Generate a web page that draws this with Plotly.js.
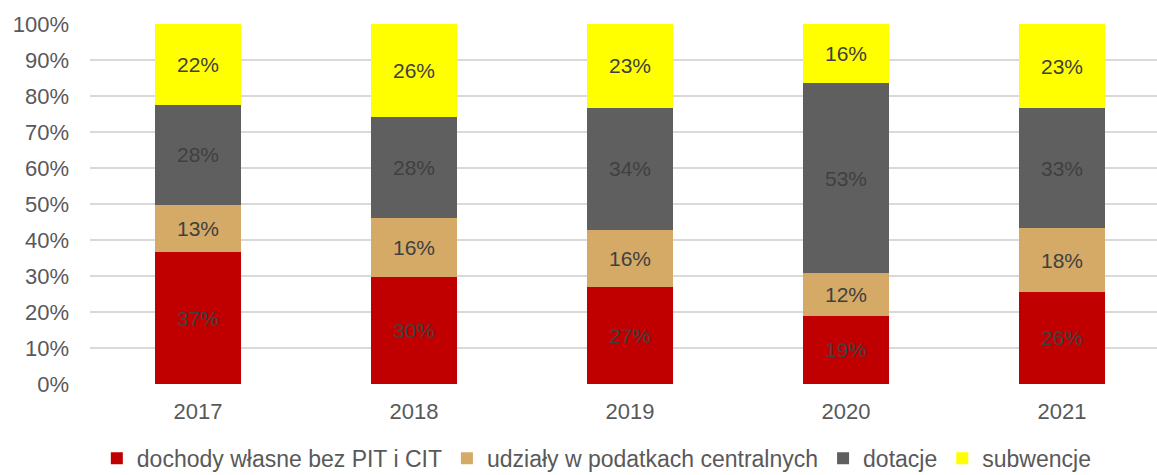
<!DOCTYPE html>
<html>
<head>
<meta charset="utf-8">
<script src="https://cdn.plot.ly/plotly-3.0.1.min.js"></script>
<style>
  html, body { margin: 0; padding: 0; background: #fff; }
  #chart { width: 1157px; height: 475px; }
</style>
</head>
<body>
<div id="chart"></div>
<script>
  const years = ['2017', '2018', '2019', '2020', '2021'];
  const dochodyWlasne = [36.6, 29.7, 26.9, 18.9, 25.6];
  const udzialy = [13.2, 16.4, 15.9, 11.9, 17.6];
  const dotacje = [27.8, 28.1, 33.9, 52.8, 33.4];
  const subwencje = [22.4, 25.8, 23.3, 16.4, 23.4];
  const yTicks = [0, 10, 20, 30, 40, 50, 60, 70, 80, 90, 100];

  const series = [
    { name: 'dochody własne bez PIT i CIT', y: dochodyWlasne, color: '#C00000' },
    { name: 'udziały w podatkach centralnych', y: udzialy, color: '#D4AA66' },
    { name: 'dotacje', y: dotacje, color: '#5F5F5F' },
    { name: 'subwencje', y: subwencje, color: '#FFFF00' }
  ];

  const traces = series.map(s => ({
    type: 'bar',
    name: s.name,
    x: years,
    y: s.y,
    width: 0.4,
    marker: { color: s.color, line: { width: 0 } },
    texttemplate: '%{y:.0f}%',
    textposition: 'inside',
    insidetextanchor: 'middle',
    textangle: 0,
    constraintext: 'none',
    textfont: { family: 'Liberation Sans, Arial, sans-serif', size: 21, color: '#404040' },
    hoverinfo: 'skip'
  }));

  const layout = {
    barmode: 'stack',
    width: 1157,
    height: 475,
    margin: { l: 90, r: 0, t: 24, b: 91 },
    paper_bgcolor: '#fff',
    plot_bgcolor: '#fff',
    font: { family: 'Liberation Sans, Arial, sans-serif', color: '#595959', size: 22 },
    xaxis: {
      type: 'category',
      range: [-0.5, 4.44],
      showgrid: false,
      zeroline: false,
      showline: false,
      ticks: '',
      ticklabelstandoff: 12,
      tickfont: { size: 22, color: '#595959' },
      automargin: false
    },
    yaxis: {
      range: [0, 100],
      tickvals: yTicks,
      ticktext: yTicks.map(v => v + '%'),
      showgrid: true,
      gridcolor: '#D9D9D9',
      gridwidth: 2,
      zeroline: false,
      showline: false,
      ticks: '',
      ticklabelstandoff: 20,
      tickfont: { size: 22, color: '#595959' },
      automargin: false
    },
    showlegend: true,
    legend: {
      orientation: 'h',
      x: 0.475,
      xanchor: 'center',
      yref: 'container',
      y: 0.035,
      yanchor: 'middle',
      font: { size: 23, color: '#595959' },
      traceorder: 'normal'
    }
  };

  Plotly.newPlot('chart', traces, layout, { displayModeBar: false, staticPlot: true });
</script>
</body>
</html>
